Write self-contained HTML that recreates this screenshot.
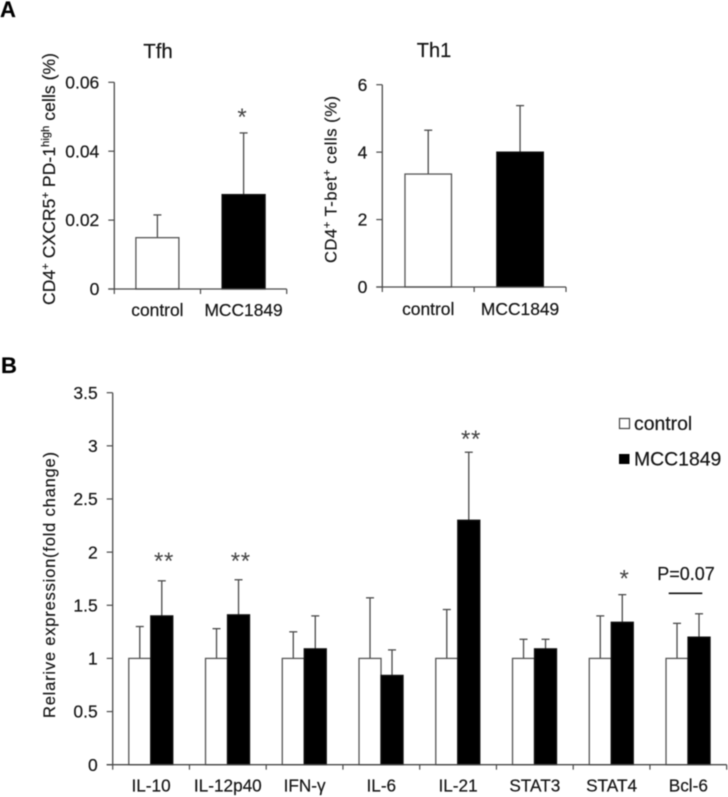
<!DOCTYPE html>
<html lang="en">
<head>
<meta charset="utf-8">
<title>Tfh and Th1 cells and relative expression</title>
<style>
html,body{margin:0;padding:0;background:#fff;width:728px;height:797px;overflow:hidden}
svg{display:block;filter:blur(0.4px)}
text{font-family:"Liberation Sans",Arial,sans-serif;fill:#161616;stroke:#161616;stroke-width:0.2px}
</style>
</head>
<body>
<svg id="figure" xmlns="http://www.w3.org/2000/svg" width="728" height="797" viewBox="0 0 728 797">
  <text x="0" y="17" font-size="22" font-weight="bold" style="fill:#000">A</text>
  <text x="1" y="373" font-size="22" font-weight="bold" style="fill:#000">B</text>

  <text x="158" y="58" font-size="20.5" text-anchor="middle">Tfh</text>
  <text x="434" y="57" font-size="20" text-anchor="middle">Th1</text>

  <text transform="translate(55,305) rotate(-90)" font-size="17.5" textLength="252">CD4<tspan dy="-6" font-size="11">+</tspan><tspan dy="6"> CXCR5</tspan><tspan dy="-6" font-size="11">+</tspan><tspan dy="6"> PD-1</tspan><tspan dy="-6" font-size="11">high</tspan><tspan dy="6"> cells (%)</tspan></text>
  <text transform="translate(336.5,263) rotate(-90)" font-size="16.5" textLength="167">CD4<tspan dy="-6" font-size="11">+</tspan><tspan dy="6"> T-bet</tspan><tspan dy="-6" font-size="11">+</tspan><tspan dy="6"> cells (%)</tspan></text>
  <text transform="translate(55,718) rotate(-90)" font-size="16.5" textLength="266">Relarive expression(fold change)</text>

  <g id="tfh-chart"></g>
  <g id="th1-chart"></g>
  <g id="expression-chart"></g>

  <g>
    <rect x="619.5" y="418.5" width="10" height="10" fill="#fff" stroke="#444" stroke-width="1.2"/>
    <text x="634" y="430" font-size="19.4">control</text>
    <rect x="619" y="454" width="10.5" height="10" fill="#000"/>
    <text x="634" y="465.5" font-size="19.4">MCC1849</text>
  </g>

  <text x="686" y="580" font-size="18" text-anchor="middle">P=0.07</text>
  <line x1="668.7" x2="702.3" y1="593.3" y2="593.3" stroke="#111" stroke-width="1.6"/>
</svg>

<script>
// Panel A, Tfh
const tfhCategories = ['control', 'MCC1849'];
const tfhValues = [0.0149, 0.0274];
const tfhErrorTops = [0.0215, 0.0453];
const tfhTicks = [0, 0.02, 0.04, 0.06];
const tfhTickLabels = ['0', '0.02', '0.04', '0.06'];

// Panel A, Th1
const th1Categories = ['control', 'MCC1849'];
const th1Values = [3.35, 4.0];
const th1ErrorTops = [4.65, 5.38];
const th1Ticks = [0, 2, 4, 6];
const th1TickLabels = ['0', '2', '4', '6'];

// Panel B, relative expression
const geneCategories = ['IL-10', 'IL-12p40', 'IFN-γ', 'IL-6', 'IL-21', 'STAT3', 'STAT4', 'Bcl-6'];
const controlValues = [1, 1, 1, 1, 1, 1, 1, 1];
const controlErrorTops = [1.3, 1.28, 1.25, 1.57, 1.46, 1.18, 1.4, 1.33];
const mccValues = [1.4, 1.41, 1.09, 0.84, 2.3, 1.09, 1.34, 1.2];
const mccErrorTops = [1.73, 1.74, 1.4, 1.08, 2.94, 1.18, 1.6, 1.42];
const significanceMarks = ['**', '**', '', '', '**', '', '*', ''];
const significanceLevels = [1.84, 1.84, 0, 0, 2.99, 0, 1.675, 0];
const expressionTicks = [0, 0.5, 1, 1.5, 2, 2.5, 3, 3.5];
const expressionTickLabels = ['0', '0.5', '1', '1.5', '2', '2.5', '3', '3.5'];

const SVG_NS = 'http://www.w3.org/2000/svg';
const AXIS_COLOR = '#4a4a4a';
const STAR_COLOR = '#444';

function shape(parent, tag, attrs, content) {
  const el = document.createElementNS(SVG_NS, tag);
  for (const key in attrs) el.setAttribute(key, attrs[key]);
  if (content !== undefined) el.textContent = content;
  parent.appendChild(el);
  return el;
}

function linearY(frame, maxValue) {
  return function (v) {
    return frame.bottom - (v / maxValue) * (frame.bottom - frame.top);
  };
}

function bandX(frame, count) {
  const band = (frame.right - frame.left) / count;
  return function (i) {
    return frame.left + band * (i + 0.5);
  };
}

function drawAxes(group, prefix, frame, y, ticks, tickLabels, categories, tickFont, catFont, catBaseline) {
  const vAxis = shape(group, 'line', {x1: frame.left, x2: frame.left, y1: frame.top, y2: frame.bottom, stroke: AXIS_COLOR, 'stroke-width': 1.3});
  
  

  ticks.forEach(function (t, i) {
    const tick = shape(group, 'line', {x1: frame.left - 6, x2: frame.left, y1: y(t), y2: y(t), stroke: AXIS_COLOR, 'stroke-width': 1.2});
    
    
    const label = shape(group, 'text', {x: frame.left - 15, y: y(t) + tickFont * 0.35, 'font-size': tickFont, 'text-anchor': 'end'}, tickLabels[i]);
    
    
  });

  const band = (frame.right - frame.left) / categories.length;
  const x = bandX(frame, categories.length);
  categories.forEach(function (c, i) {
    const label = shape(group, 'text', {x: x(i), y: catBaseline, 'font-size': catFont, 'text-anchor': 'middle'}, c);
    
    
  });
  for (let i = 0; i <= categories.length; i++) {
    const px = frame.left + band * i;
    const tick = shape(group, 'line', {x1: px, x2: px, y1: frame.bottom, y2: frame.bottom + 5, stroke: AXIS_COLOR, 'stroke-width': 1.2});
    
    
  }
}

function drawBar(group, name, cx, width, value, errorTop, y, bottom, isFilled) {
  const errorLine = shape(group, 'line', {x1: cx, x2: cx, y1: y(value), y2: y(errorTop), stroke: AXIS_COLOR, 'stroke-width': 1.3});
  
  
  const cap = shape(group, 'line', {x1: cx - 4, x2: cx + 4, y1: y(errorTop), y2: y(errorTop), stroke: AXIS_COLOR, 'stroke-width': 1.3});
  
  
  const bar = shape(group, 'rect', {
    x: cx - width / 2, y: y(value), width: width, height: bottom - y(value),
    fill: isFilled ? '#000' : '#fff', stroke: isFilled ? '#111' : '#555', 'stroke-width': 1.3
  });
  
  
}

function drawBaseline(group, prefix, frame) {
  const hAxis = shape(group, 'line', {x1: frame.left - 6, x2: frame.right, y1: frame.bottom, y2: frame.bottom, stroke: AXIS_COLOR, 'stroke-width': 1.3});
  
  
}

// Tfh
(function () {
  const group = document.getElementById('tfh-chart');
  const frame = {left: 114.3, right: 286.7, top: 82.3, bottom: 289};
  const y = linearY(frame, tfhTicks[tfhTicks.length - 1]);
  const x = bandX(frame, tfhCategories.length);
  drawAxes(group, 'tfh', frame, y, tfhTicks, tfhTickLabels, tfhCategories, 17.5, 17.4, 316);
  tfhCategories.forEach(function (c, i) {
    drawBar(group, 'tfh-' + c.toLowerCase(), x(i), 43, tfhValues[i], tfhErrorTops[i], y, frame.bottom, i === 1);
  });
  drawBaseline(group, 'tfh', frame);
  const star = shape(group, 'text', {x: x(1) - 1.5, y: 125, 'font-size': 24, 'text-anchor': 'middle', style: 'fill:' + STAR_COLOR + ';stroke:none'}, '*');
  
  
})();

// Th1
(function () {
  const group = document.getElementById('th1-chart');
  const frame = {left: 382.3, right: 566, top: 84.7, bottom: 287};
  const y = linearY(frame, th1Ticks[th1Ticks.length - 1]);
  const x = bandX(frame, th1Categories.length);
  drawAxes(group, 'th1', frame, y, th1Ticks, th1TickLabels, th1Categories, 17.5, 17.4, 315);
  th1Categories.forEach(function (c, i) {
    drawBar(group, 'th1-' + c.toLowerCase(), x(i), 46.5, th1Values[i], th1ErrorTops[i], y, frame.bottom, i === 1);
  });
  drawBaseline(group, 'th1', frame);
})();

// Relative expression
(function () {
  const group = document.getElementById('expression-chart');
  const frame = {left: 112.7, right: 726.7, top: 392.7, bottom: 764.7};
  const y = linearY(frame, expressionTicks[expressionTicks.length - 1]);
  const x = bandX(frame, geneCategories.length);
  const barWidth = 22;
  drawAxes(group, 'expression', frame, y, expressionTicks, expressionTickLabels, geneCategories, 17.5, 17.2, 791.5);
  geneCategories.forEach(function (c, i) {
    const slug = c.toLowerCase();
    drawBar(group, slug + '-control', x(i) - barWidth / 2 - 0.3, barWidth, controlValues[i], controlErrorTops[i], y, frame.bottom, false);
    drawBar(group, slug + '-mcc1849', x(i) + barWidth / 2 - 0.3, barWidth, mccValues[i], mccErrorTops[i], y, frame.bottom, true);
    if (significanceMarks[i]) {
      const mark = shape(group, 'text', {x: x(i) + 13, y: y(significanceLevels[i]), 'font-size': 24, 'text-anchor': 'middle', 'letter-spacing': 0.7, style: 'fill:' + STAR_COLOR + ';stroke:none'}, significanceMarks[i]);
      
      
    }
  });
  drawBaseline(group, 'expression', frame);
})();
</script>
</body>
</html>
